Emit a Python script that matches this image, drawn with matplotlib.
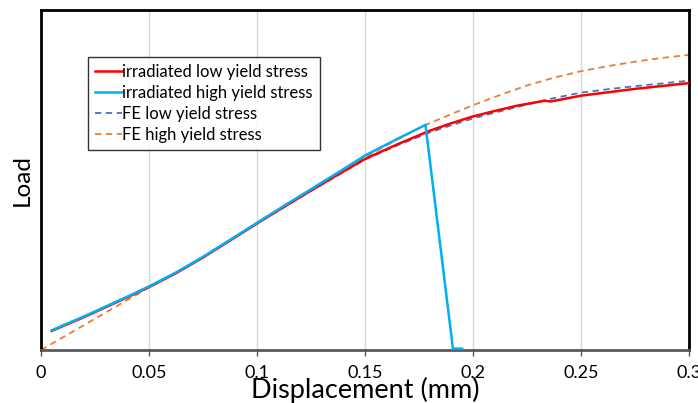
import matplotlib
matplotlib.use("Agg")
import matplotlib.pyplot as plt

# Data (load in arbitrary units)
irr_low_x = [0.005, 0.01, 0.02, 0.03, 0.04, 0.05, 0.0625, 0.075, 0.0875, 0.1, 0.1125, 0.125, 0.1375, 0.15, 0.165, 0.18, 0.19, 0.2, 0.21, 0.22, 0.233, 0.236, 0.25, 0.275, 0.3]
irr_low_y = [0.056, 0.07, 0.097, 0.126, 0.155, 0.185, 0.226, 0.272, 0.322, 0.372, 0.421, 0.469, 0.516, 0.562, 0.605, 0.645, 0.667, 0.687, 0.703, 0.718, 0.733, 0.731, 0.748, 0.768, 0.785]

irr_high_x = [0.005, 0.01, 0.02, 0.03, 0.04, 0.05, 0.0625, 0.075, 0.0875, 0.1, 0.1125, 0.125, 0.1375, 0.15, 0.165, 0.178, 0.1907, 0.195]
irr_high_y = [0.058, 0.072, 0.099, 0.128, 0.157, 0.187, 0.228, 0.274, 0.324, 0.374, 0.424, 0.473, 0.522, 0.572, 0.621, 0.662, 0.004, 0.004]

fe_low_x = [0.005, 0.01, 0.02, 0.03, 0.04, 0.05, 0.0625, 0.075, 0.0875, 0.1, 0.1125, 0.125, 0.1375, 0.15, 0.165, 0.18, 0.19, 0.2, 0.2125, 0.225, 0.2375, 0.25, 0.2625, 0.275, 0.2875, 0.3]
fe_low_y = [0.057, 0.071, 0.098, 0.127, 0.156, 0.185, 0.227, 0.272, 0.322, 0.372, 0.42, 0.468, 0.514, 0.56, 0.602, 0.64, 0.661, 0.681, 0.702, 0.722, 0.741, 0.757, 0.767, 0.776, 0.784, 0.792]

fe_high_x = [0.0, 0.0125, 0.025, 0.0375, 0.05, 0.0625, 0.075, 0.0875, 0.1, 0.1125, 0.125, 0.1375, 0.15, 0.165, 0.178, 0.19, 0.2, 0.2125, 0.225, 0.2375, 0.25, 0.2625, 0.275, 0.2875, 0.3]
fe_high_y = [0.0, 0.046, 0.092, 0.138, 0.184, 0.227, 0.273, 0.323, 0.373, 0.423, 0.471, 0.519, 0.567, 0.619, 0.662, 0.694, 0.72, 0.75, 0.778, 0.801, 0.82, 0.835, 0.848, 0.859, 0.868]

xticks = [0, 0.05, 0.1, 0.15, 0.2, 0.25, 0.3]
xticklabels = ["0", "0.05", "0.1", "0.15", "0.2", "0.25", "0.3"]

plt.rcParams['font.family'] = ['Lato', 'DejaVu Sans']

fig = plt.figure(figsize=(6.98, 4.03), dpi=100)
ax = fig.add_axes([41/698, 53/403, 648/698, 340/403])

ax.plot(fe_low_x, fe_low_y, color='#4472C4', lw=1.3, ls=(0, (3.5, 2.5)), label='FE low yield stress', zorder=2)
ax.plot(fe_high_x, fe_high_y, color='#ED7D31', lw=1.3, ls=(0, (3.5, 2.5)), label='FE high yield stress', zorder=2)
ax.plot(irr_low_x, irr_low_y, color='#FF0000', lw=1.8, label='irradiated low yield stress', zorder=3)
ax.plot(irr_high_x, irr_high_y, color='#00B0F0', lw=1.8, label='irradiated high yield stress', zorder=4, clip_on=False)

ax.set_xlim(0, 0.3)
ax.set_ylim(0, 1.0)
ax.set_xticks(xticks)
ax.set_xticklabels(xticklabels, fontsize=13)
ax.set_yticks([])
ax.grid(axis='x', color='#D9D9D9', lw=1)
ax.set_axisbelow(True)
ax.tick_params(axis='x', length=4, width=1, color='#595959', direction='out', pad=7)

for s in ['left', 'top', 'right']:
    ax.spines[s].set_color('black')
    ax.spines[s].set_linewidth(2)
ax.spines['bottom'].set_color('#595959')
ax.spines['bottom'].set_linewidth(2)

ax.set_xlabel('Displacement (mm)', fontsize=19.5)
ax.xaxis.label.set_va('center')
ax.xaxis.set_label_coords(0.5, -0.117)
ax.set_ylabel('Load', fontsize=17.5)
ax.yaxis.label.set_va('center')
ax.yaxis.set_label_coords(-0.029, 0.5)

handles, labels = ax.get_legend_handles_labels()
order = [2, 3, 0, 1]
leg = ax.legend([handles[i] for i in order], [labels[i] for i in order],
                loc='upper left', bbox_to_anchor=(0.0725, 0.862), borderaxespad=0,
                fontsize=12, frameon=True, fancybox=False, handlelength=1.6,
                handletextpad=0.05, labelspacing=0.3, borderpad=0.42)
leg.get_frame().set_edgecolor('black')
leg.get_frame().set_linewidth(1)

fig.savefig('out.png', dpi=100)
